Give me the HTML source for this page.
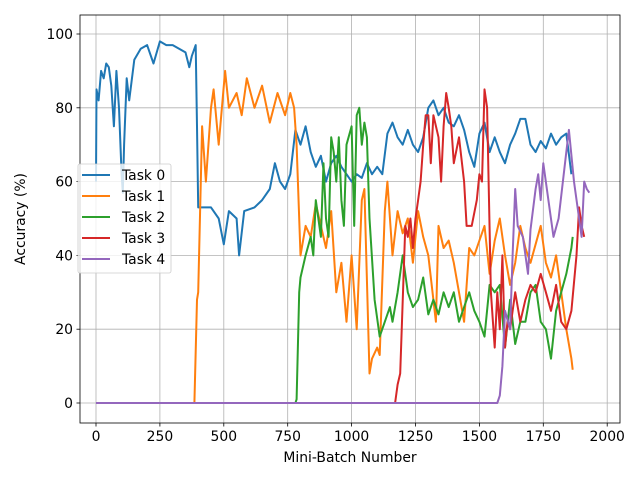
<!DOCTYPE html>
<html><head><meta charset="utf-8"><style>
body{margin:0;background:#fff;font-family:"Liberation Sans","DejaVu Sans",sans-serif}
svg text{font-family:"DejaVu Sans","Liberation Sans",sans-serif;font-size:13.9px;fill:#000}
</style></head><body>
<svg id="c" width="640" height="480"></svg>
<script>
const xTicks=[0,250,500,750,1000,1250,1500,1750,2000];
const yTicks=[0,20,40,60,80,100];
const names=["Task 0","Task 1","Task 2","Task 3","Task 4"];
const colors=["#1f77b4","#ff7f0e","#2ca02c","#d62728","#9467bd"];
const t0x=[0,2,10,20,30,40,50,60,70,80,90,100,105,110,120,130,150,175,200,225,250,275,300,325,350,365,375,390,395,400,420,450,480,500,520,550,560,580,620,650,680,700,720,740,760,780,800,820,840,860,880,900,920,940,960,980,1000,1020,1040,1060,1080,1100,1120,1140,1160,1180,1200,1220,1240,1260,1280,1300,1320,1340,1360,1380,1400,1420,1440,1460,1480,1500,1520,1540,1560,1580,1600,1620,1640,1660,1680,1700,1720,1740,1760,1780,1800,1820,1840,1860];
const t0y=[60,85,82,90,88,92,91,86,75,90,80,62,57,70,88,82,93,96,97,92,98,97,97,96,95,91,94,97,75,53,53,53,50,43,52,50,40,52,53,55,58,65,60,58,62,74,70,75,68,64,67,60,65,67,64,62,60,62,61,65,62,64,62,73,76,72,70,74,70,68,72,80,82,78,80,76,75,78,74,68,64,73,76,68,72,68,65,70,73,77,77,70,68,71,69,73,70,72,73,62];
const t1x=[0,385,395,400,415,430,450,460,480,505,520,550,570,590,620,650,680,710,740,760,775,785,800,820,840,860,880,900,920,940,960,980,1000,1020,1040,1050,1070,1080,1100,1110,1130,1140,1160,1180,1200,1220,1240,1260,1280,1300,1330,1340,1360,1380,1400,1420,1440,1460,1480,1500,1520,1540,1560,1580,1600,1620,1640,1660,1680,1700,1720,1740,1760,1780,1800,1820,1840,1860,1865];
const t1y=[0,0,28,30,75,60,80,85,70,90,80,84,78,88,80,86,76,84,78,84,80,70,40,48,45,54,48,42,52,30,38,22,40,20,55,58,8,12,15,13,52,60,40,52,46,50,38,52,45,40,22,48,42,44,38,30,22,42,40,44,48,35,44,50,40,32,38,48,42,38,43,48,38,34,40,30,20,12,9];
const t2x=[0,780,785,795,800,820,840,850,860,880,890,900,910,920,930,940,950,960,970,980,1000,1010,1020,1030,1040,1050,1060,1070,1090,1110,1130,1150,1160,1180,1200,1220,1240,1260,1280,1300,1320,1340,1360,1380,1400,1420,1440,1460,1480,1500,1520,1540,1560,1580,1600,1620,1640,1660,1680,1700,1720,1740,1760,1780,1800,1820,1840,1860,1865];
const t2y=[0,0,1,30,34,40,45,40,55,45,65,50,45,72,68,60,72,55,48,70,75,48,78,80,70,76,72,50,28,18,22,26,22,30,40,30,26,28,34,24,28,24,30,26,30,22,26,30,25,22,18,32,30,32,15,28,16,22,22,30,32,22,20,12,25,30,35,42,45];
const t3x=[0,1170,1180,1190,1210,1220,1230,1240,1250,1260,1270,1280,1290,1300,1310,1320,1340,1350,1360,1370,1380,1390,1400,1420,1440,1450,1470,1490,1500,1510,1520,1530,1545,1560,1570,1580,1590,1600,1610,1620,1640,1660,1680,1700,1720,1740,1760,1780,1800,1820,1840,1860,1880,1890,1900,1910];
const t3y=[0,0,5,8,48,45,50,42,50,55,60,70,78,78,65,78,72,60,75,84,80,75,65,72,60,48,48,55,62,60,85,80,30,15,30,20,40,15,22,20,30,22,28,32,30,35,30,25,32,22,20,25,40,53,48,45];
const t4x=[0,1570,1580,1590,1600,1620,1630,1640,1650,1670,1690,1700,1720,1730,1740,1750,1770,1790,1810,1840,1850,1870,1890,1900,1910,1920,1930];
const t4y=[0,0,2,10,25,20,40,58,48,45,35,47,58,62,55,65,55,45,50,68,74,60,50,45,60,58,57];
const xs=[t0x,t1x,t2x,t3x,t4x], ys=[t0y,t1y,t2y,t3y,t4y];
const L=80,R=620,T=15,B=423;
const sx=v=>96+v*0.2556, sy=v=>403-v*3.69;
const svg=document.getElementById('c'),NS='http://www.w3.org/2000/svg';
function mk(tag,at,parent){const e=document.createElementNS(NS,tag);for(const k in at)e.setAttribute(k,at[k]);(parent||svg).appendChild(e);return e;}
xTicks.forEach(v=>{const x=sx(v);
 const g=mk('line',{x1:x,x2:x,y1:T,y2:B,stroke:'#b0b0b0','stroke-width':0.8});
 
 
 mk('line',{x1:x,x2:x,y1:B,y2:B+3.5,stroke:'#000','stroke-width':0.8});
 const t=mk('text',{x:x,y:B+18,'text-anchor':'middle'});t.textContent=v;
 
 });
yTicks.forEach(v=>{const y=sy(v);
 const g=mk('line',{x1:L,x2:R,y1:y,y2:y,stroke:'#b0b0b0','stroke-width':0.8});
 
 
 mk('line',{x1:L-3.5,x2:L,y1:y,y2:y,stroke:'#000','stroke-width':0.8});
 const t=mk('text',{x:L-7,y:y+5,'text-anchor':'end'});t.textContent=v;
 
 });
for(let i=0;i<5;i++){
 const d=xs[i].map((x,j)=>(j?'L':'M')+sx(x).toFixed(1)+','+sy(ys[i][j]).toFixed(1)).join('');
 const p=mk('path',{d:d,fill:'none',stroke:colors[i],'stroke-width':2,'stroke-linejoin':'round'});
 
 
}
const fr=mk('rect',{x:L,y:T,width:R-L,height:B-T,fill:'none',stroke:'#000','stroke-width':0.8});


const xl=mk('text',{x:350,y:462,'text-anchor':'middle'});xl.textContent='Mini-Batch Number';


const yl=mk('text',{x:25,y:219,'text-anchor':'middle',transform:'rotate(-90 25 219)'});yl.textContent='Accuracy (%)';


const lg=mk('g',{});


mk('rect',{x:78,y:164,width:93,height:109,rx:2,fill:'#fff','fill-opacity':0.8,stroke:'#ccc','stroke-width':0.8},lg);
names.forEach((n,i)=>{const y=175+i*21;
 const e=mk('g',{},lg);
 
 
 mk('line',{x1:82,x2:110,y1:y,y2:y,stroke:colors[i],'stroke-width':2},e);
 const t=mk('text',{x:122,y:y+5},e);t.textContent=n;});
</script>
</body></html>
